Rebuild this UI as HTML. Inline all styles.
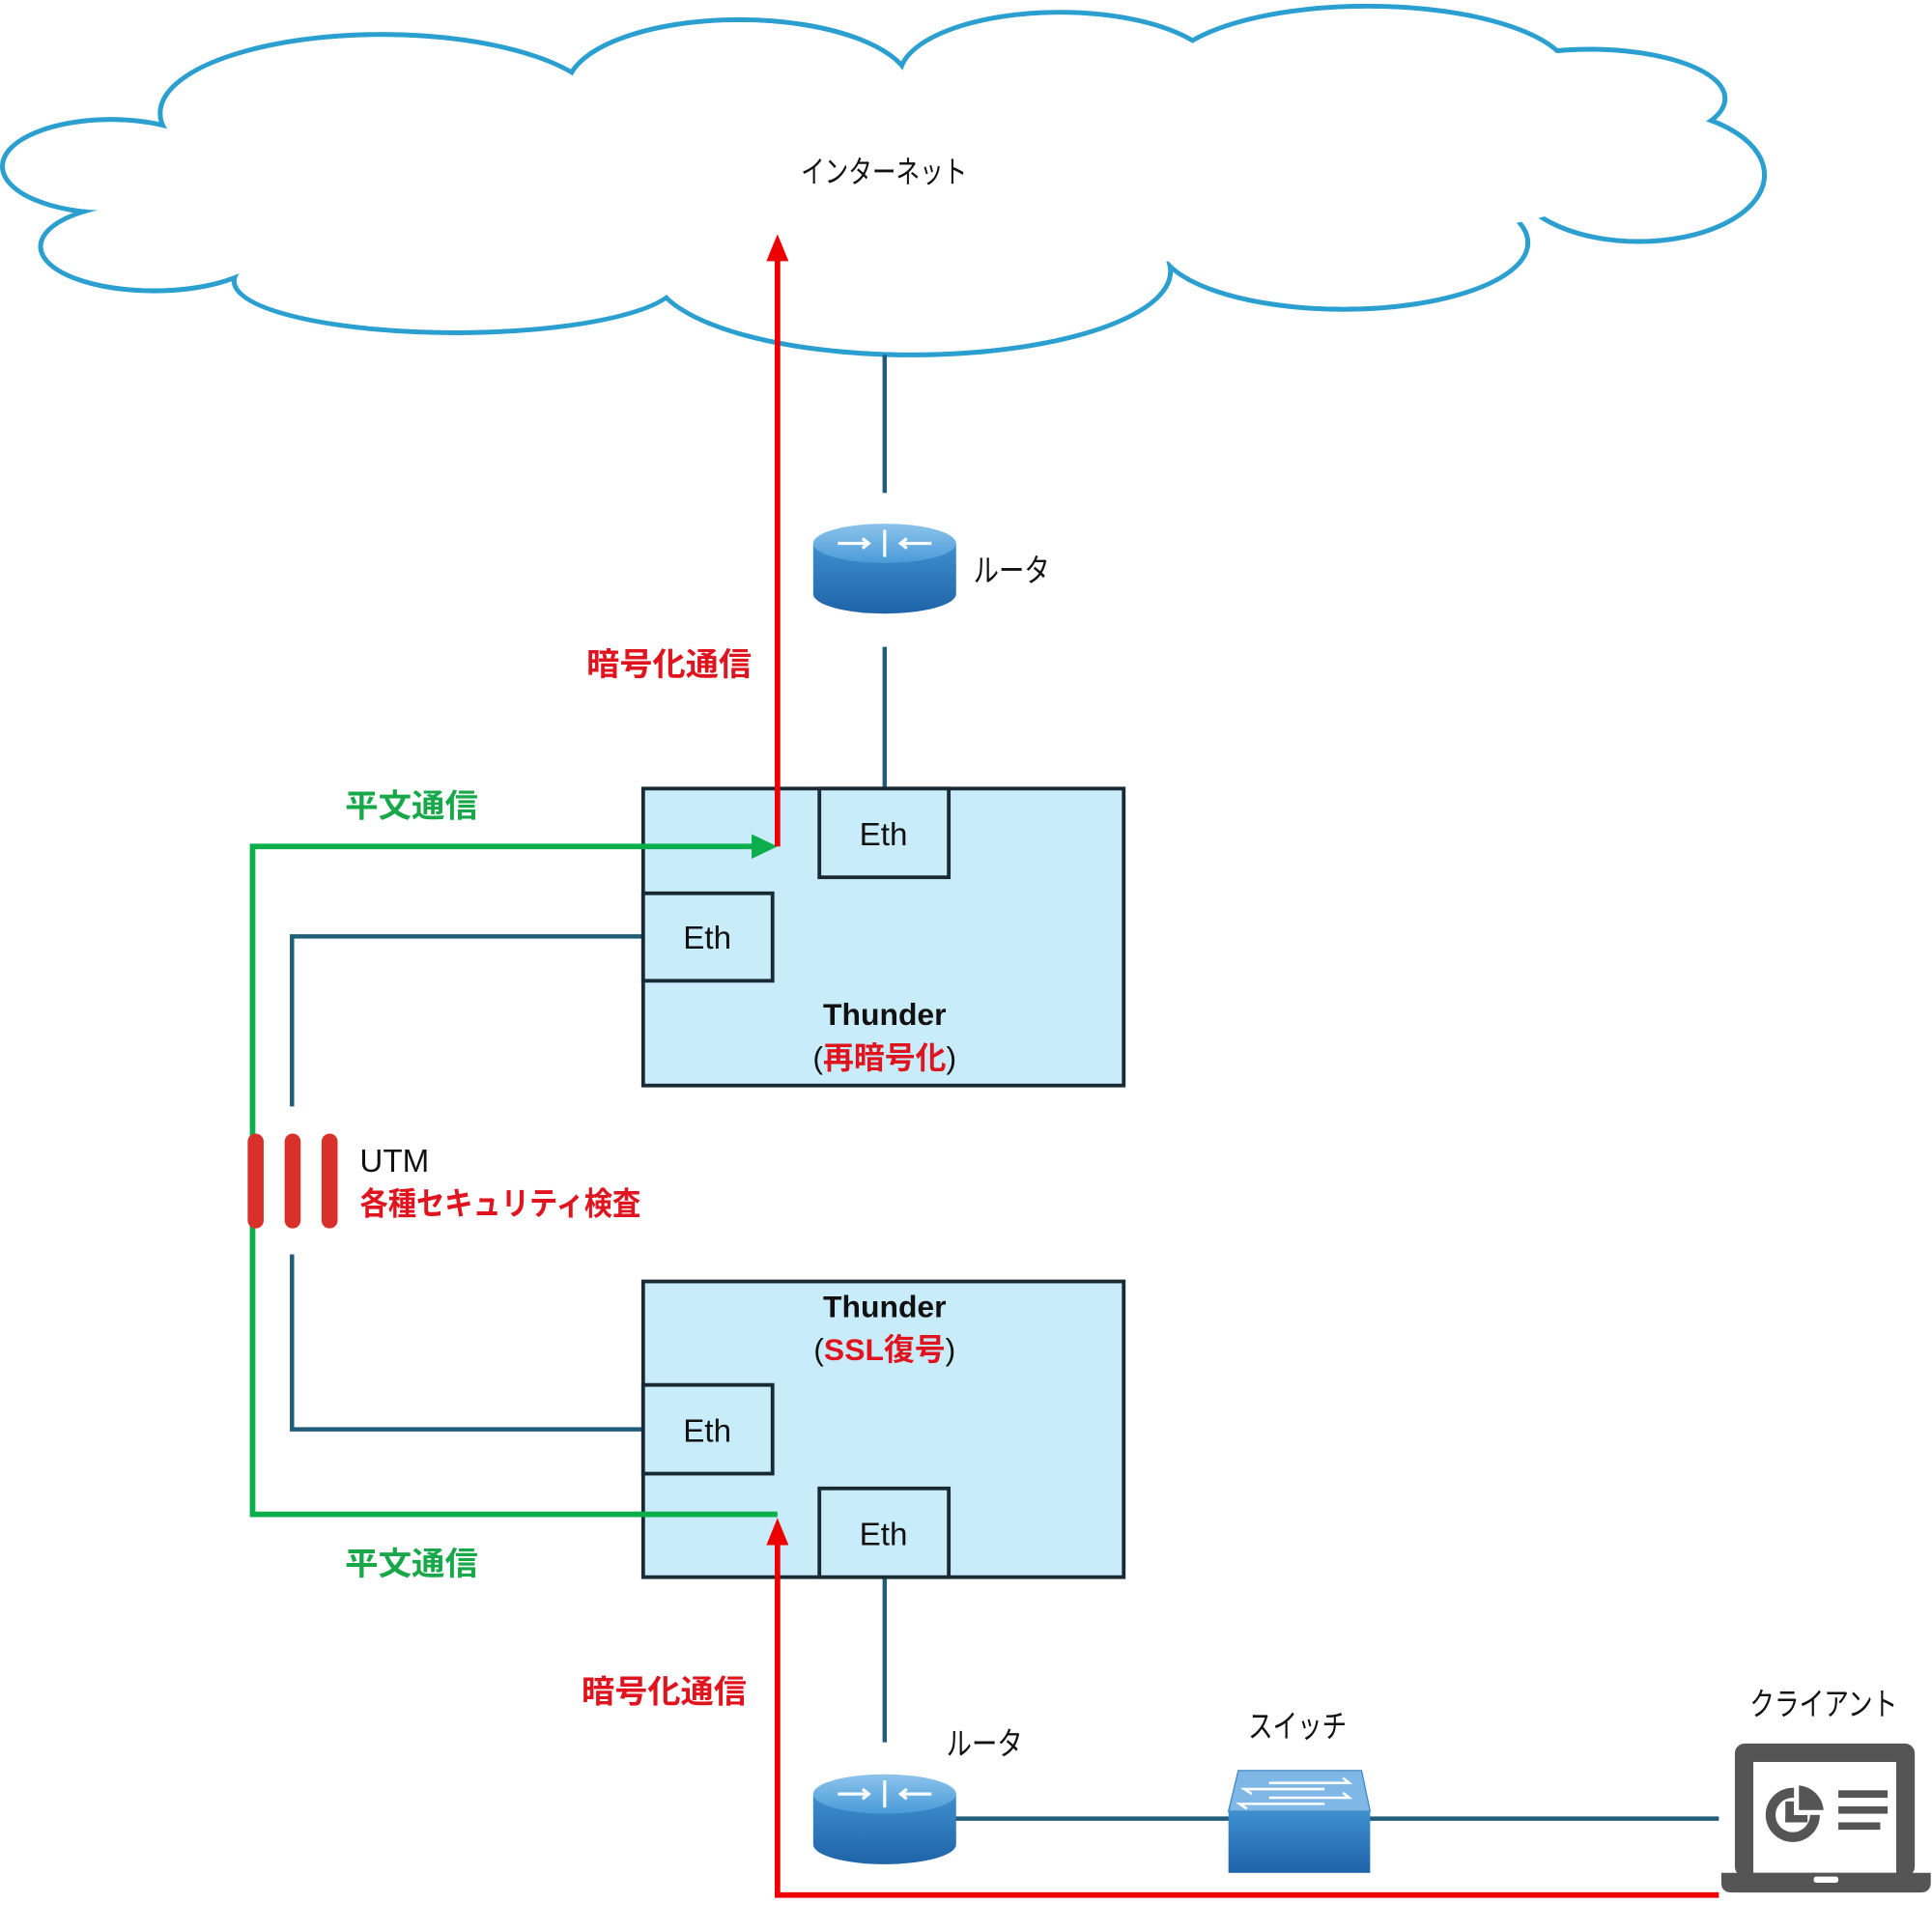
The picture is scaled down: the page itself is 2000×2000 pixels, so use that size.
<!DOCTYPE html>
<html><head><meta charset="utf-8"><style>
html,body{margin:0;padding:0;background:#fff}
svg{display:block}
text{font-family:"Liberation Sans","Noto Sans CJK JP",sans-serif}
</style></head><body>
<svg width="2000" height="2000" viewBox="0 0 1568 1568" xmlns="http://www.w3.org/2000/svg">
<defs>
<linearGradient id="rg" x1="0" y1="0" x2="0" y2="1"><stop offset="0" stop-color="#3f8fcf"/><stop offset="1" stop-color="#1e64a8"/></linearGradient>
<linearGradient id="rt" x1="0" y1="0" x2="0" y2="1"><stop offset="0" stop-color="#8cc4ec"/><stop offset="1" stop-color="#4a9bd8"/></linearGradient>
</defs>
<!-- cloud -->
<g fill="none" stroke="#2a9fd0" stroke-width="4">
<ellipse cx="90" cy="135" rx="88" ry="38"/>
<ellipse cx="125" cy="200" rx="92" ry="36"/>
<ellipse cx="370" cy="228" rx="180" ry="42"/>
<ellipse cx="740" cy="220" rx="210" ry="68"/>
<ellipse cx="1090" cy="197" rx="150" ry="54"/>
<ellipse cx="1330" cy="142" rx="102" ry="54"/>
<ellipse cx="1290" cy="80" rx="110" ry="40"/>
<ellipse cx="1110" cy="62" rx="165" ry="57"/>
<ellipse cx="860" cy="62" rx="130" ry="52"/>
<ellipse cx="600" cy="72" rx="140" ry="56"/>
<ellipse cx="310" cy="92" rx="180" ry="64"/>
</g>
<g fill="#fff">
<ellipse cx="90" cy="135" rx="86" ry="36"/>
<ellipse cx="125" cy="200" rx="90" ry="34"/>
<ellipse cx="370" cy="228" rx="178" ry="40"/>
<ellipse cx="740" cy="220" rx="208" ry="66"/>
<ellipse cx="1090" cy="197" rx="148" ry="52"/>
<ellipse cx="1330" cy="142" rx="100" ry="52"/>
<ellipse cx="1290" cy="80" rx="108" ry="38"/>
<ellipse cx="1110" cy="62" rx="163" ry="55"/>
<ellipse cx="860" cy="62" rx="128" ry="50"/>
<ellipse cx="600" cy="72" rx="138" ry="54"/>
<ellipse cx="310" cy="92" rx="178" ry="62"/>
<ellipse cx="720" cy="140" rx="600" ry="78"/>
<ellipse cx="205" cy="180" rx="100" ry="30"/>
</g>
<text x="650" y="148" font-size="25" fill="#111" textLength="135" lengthAdjust="spacingAndGlyphs">インターネット</text>

<!-- dark connectors -->
<g stroke="#215d7a" stroke-width="3.5" fill="none">
<line x1="718" y1="288" x2="718" y2="400"/>
<line x1="718" y1="525" x2="718" y2="640"/>
<polyline points="522,760 237,760 237,898"/>
<polyline points="237,1018 237,1160 522,1160"/>
<line x1="718" y1="1280" x2="718" y2="1414"/>
<line x1="775" y1="1476" x2="1395" y2="1476"/>
</g>

<!-- routers -->
<g id="r1">
<path d="M660,441 L660,482 A58,16 0 0 0 776,482 L776,441 Z" fill="url(#rg)"/>
<ellipse cx="718" cy="441" rx="58" ry="16" fill="url(#rt)"/>
<g stroke="#fff" stroke-width="2.5" fill="none"><line x1="680" y1="441" x2="705" y2="441"/><line x1="731" y1="441" x2="756" y2="441"/><line x1="718" y1="430" x2="718" y2="452"/>
<polyline points="700,437 705,441 700,445"/><polyline points="736,437 731,441 736,445"/></g>
</g>
<use href="#r1" transform="translate(0,1015)"/>
<text x="790" y="472" font-size="26" fill="#111" textLength="62" lengthAdjust="spacingAndGlyphs">ルータ</text>
<text x="768" y="1424" font-size="26" fill="#111" textLength="62" lengthAdjust="spacingAndGlyphs">ルータ</text>

<!-- boxes -->
<g stroke="#1a2a33" stroke-width="3" fill="#c9ecfa">
<rect x="522" y="640" width="390" height="241"/>
<rect x="665" y="640" width="105" height="72"/>
<rect x="522" y="725" width="105" height="71"/>
<rect x="522" y="1040" width="390" height="240"/>
<rect x="522" y="1124" width="105" height="72"/>
<rect x="665" y="1208" width="105" height="72"/>
</g>
<g font-size="26" fill="#111" text-anchor="middle">
<text x="717" y="686">Eth</text><text x="574" y="770">Eth</text>
<text x="574" y="1170">Eth</text><text x="717" y="1254">Eth</text>
<text x="718" y="832" font-weight="bold" font-size="25">Thunder</text>
<text x="718" y="867" font-size="25">(<tspan fill="#e0141e" font-weight="bold">再暗号化</tspan>)</text>
<text x="718" y="1069" font-weight="bold" font-size="25">Thunder</text>
<text x="718" y="1104" font-size="25">(<tspan fill="#e0141e" font-weight="bold">SSL復号</tspan>)</text>
</g>

<!-- green path -->
<polyline points="612,687 205,687 205,1229 631,1229" fill="none" stroke="#0cae4c" stroke-width="4.5"/>
<polygon points="610,677 631,687 610,697" fill="#0cae4c"/>
<!-- red paths -->
<line x1="631" y1="687" x2="631" y2="208" stroke="#ee0000" stroke-width="4.5"/>
<polygon points="622,212 631,190 640,212" fill="#ee0000"/>
<polyline points="631,1250 631,1538 1395,1538" fill="none" stroke="#ee0000" stroke-width="4.5"/>
<polygon points="622,1254 631,1232 640,1254" fill="#ee0000"/>

<!-- UTM bars -->
<g fill="#d8302a">
<rect x="201" y="920" width="13" height="77" rx="6.5"/>
<rect x="231" y="920" width="13" height="77" rx="6.5"/>
<rect x="261" y="920" width="13" height="77" rx="6.5"/>
</g>
<text x="292" y="951" font-size="26" fill="#111">UTM</text>
<text x="292" y="986" font-size="26" fill="#e0141e" font-weight="bold" textLength="228" lengthAdjust="spacingAndGlyphs">各種セキュリティ検査</text>

<g font-size="26" font-weight="bold">
<text x="476" y="548" fill="#e0141e" textLength="134" lengthAdjust="spacingAndGlyphs">暗号化通信</text>
<text x="472" y="1382" fill="#e0141e" textLength="134" lengthAdjust="spacingAndGlyphs">暗号化通信</text>
<text x="280" y="663" fill="#18a84a" textLength="108" lengthAdjust="spacingAndGlyphs">平文通信</text>
<text x="280" y="1278" fill="#18a84a" textLength="108" lengthAdjust="spacingAndGlyphs">平文通信</text>
</g>

<!-- switch -->
<polygon points="1005,1437 1105,1437 1112,1470 997,1470" fill="#7fb8e6" stroke="#3d86c6" stroke-width="1"/>
<rect x="997" y="1470" width="115" height="50" fill="url(#rg)"/>
<g stroke="#fff" stroke-width="2" fill="none">
<polyline points="1030,1447 1095,1447 1090,1443"/><polyline points="1075,1452 1010,1452 1016,1456"/>
<polyline points="1030,1459 1095,1459 1090,1455"/><polyline points="1075,1464 1006,1464 1012,1468"/>
</g>
<text x="1013" y="1410" font-size="26" fill="#111" textLength="80" lengthAdjust="spacingAndGlyphs">スイッチ</text>
<text x="1420" y="1392" font-size="26" fill="#111" textLength="120" lengthAdjust="spacingAndGlyphs">クライアント</text>

<!-- laptop -->
<rect x="1408" y="1415" width="146" height="108" rx="8" fill="#555"/>
<rect x="1423" y="1430" width="116" height="90" fill="#fff"/>
<path d="M1397,1520 L1567,1520 L1567,1528 Q1567,1536 1558,1536 L1406,1536 Q1397,1536 1397,1528 Z" fill="#555"/>
<rect x="1472" y="1523" width="20" height="5" rx="2" fill="#fff"/>
<circle cx="1455" cy="1473" r="22" fill="#555"/>
<circle cx="1455" cy="1473" r="14" fill="#fff"/>
<rect x="1449" y="1462" width="7" height="17" fill="#555"/><rect x="1449" y="1473" width="18" height="6" fill="#555"/>
<rect x="1456" y="1450" width="24" height="23" fill="#fff"/>
<path d="M1460,1449 A22,22 0 0 1 1480,1469 L1460,1469 Z" fill="#555"/>
<g fill="#555"><rect x="1492" y="1453" width="40" height="6"/><rect x="1492" y="1466" width="40" height="6"/><rect x="1492" y="1479" width="34" height="6"/></g>
</svg>
</body></html>
